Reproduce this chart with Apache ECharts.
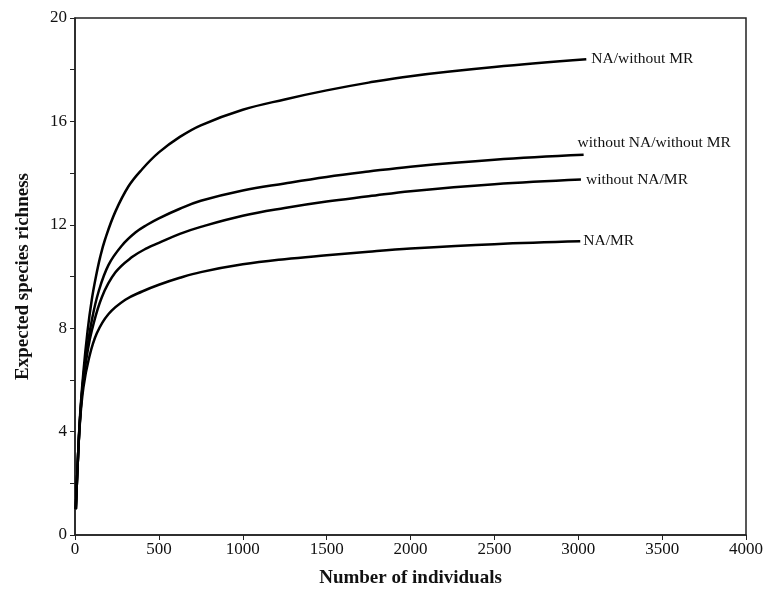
<!DOCTYPE html>
<html lang="en">
<head>
    <meta charset="UTF-8">
    <title>Rarefaction curves</title>
    <script src="https://cdn.jsdelivr.net/npm/echarts@6/dist/echarts.min.js"></script>
</head>
<style>
    html, body {
        height: 100%;
        margin: 0;
        background: #fff;
    }
</style>
<body>
<div id="main" style="width: 766px;height:594px"></div>
<script type="text/javascript">
    // values: [number of individuals, expected species]
    var naWithoutMr = [[5, 1], [15, 2.6], [30, 4.6], [50, 6.3], [75, 7.9], [100, 9.1], [125, 10.0], [150, 10.75],
        [180, 11.45], [240, 12.5], [320, 13.5], [400, 14.15], [500, 14.8], [625, 15.4], [750, 15.85], [1000, 16.45],
        [1250, 16.85], [1500, 17.2], [1750, 17.5], [2000, 17.75], [2500, 18.1], [3048, 18.4]];
    var withoutNaWithoutMr = [[5, 1], [15, 2.6], [30, 4.5], [50, 6.1], [75, 7.3], [100, 8.3], [140, 9.4], [200, 10.45],
        [280, 11.2], [360, 11.7], [430, 12.0], [500, 12.25], [625, 12.62], [750, 12.93], [1000, 13.33], [1250, 13.6],
        [1500, 13.85], [1750, 14.06], [2000, 14.25], [2500, 14.52], [3032, 14.71]];
    var withoutNaMr = [[5, 1], [15, 2.6], [30, 4.5], [50, 6.0], [75, 7.1], [100, 7.9], [160, 9.2], [240, 10.15],
        [340, 10.75], [430, 11.1], [500, 11.3], [625, 11.65], [750, 11.92], [1000, 12.35], [1250, 12.65],
        [1500, 12.9], [1750, 13.1], [2000, 13.3], [2500, 13.57], [3016, 13.75]];
    var naMr = [[5, 1], [15, 2.6], [30, 4.4], [50, 5.7], [82, 6.8], [130, 7.8], [200, 8.55], [300, 9.1], [400, 9.42],
        [500, 9.68], [625, 9.95], [750, 10.17], [1000, 10.47], [1250, 10.67], [1500, 10.82], [1750, 10.96],
        [2000, 11.08], [2500, 11.25], [3012, 11.36]];

    var seriesNames = ['NA/without MR', 'without NA/without MR', 'without NA/MR', 'NA/MR'];
    var seriesData = [naWithoutMr, withoutNaWithoutMr, withoutNaMr, naMr];
    var labelOffsets = [[0, 0], [-11, -12], [0, 0], [-2, 0]];

    var font = 'Liberation Serif';
    var myChart = echarts.init(document.getElementById('main'));

    var series = [];
    for (var i = 0; i < seriesData.length; i++) {
        series.push({
            name: seriesNames[i],
            type: 'line',
            data: seriesData[i],
            smooth: 0.4,
            showSymbol: false,
            lineStyle: {color: '#000', width: 2.5},
            endLabel: {
                show: true,
                formatter: '{a}',
                distance: 5,
                offset: labelOffsets[i],
                color: '#111',
                fontFamily: font,
                fontSize: 15.5
            }
        });
    }

    var option = {
        animation: false,
        backgroundColor: '#fff',
        grid: {
            left: 75, right: 19, top: 18, bottom: 59,
            show: true, borderColor: '#222', borderWidth: 1.5
        },
        xAxis: {
            type: 'value',
            min: 0, max: 4000, interval: 500,
            name: 'Number of individuals',
            nameLocation: 'middle',
            nameGap: 34,
            nameTextStyle: {fontFamily: font, fontSize: 19, fontWeight: 'bold', color: '#111'},
            axisLine: {lineStyle: {color: '#222', width: 1.5}},
            axisTick: {inside: false, length: 5, lineStyle: {color: '#222'}},
            axisLabel: {
                margin: 6, fontFamily: font, fontSize: 17, color: '#111',
                formatter: function (v) { return String(v); }
            },
            splitLine: {show: false}
        },
        yAxis: {
            type: 'value',
            min: 0, max: 20, interval: 4,
            name: 'Expected species richness',
            nameLocation: 'middle',
            nameGap: 42,
            nameTextStyle: {fontFamily: font, fontSize: 19, fontWeight: 'bold', color: '#111'},
            axisLine: {show: true, lineStyle: {color: '#222', width: 1.5}},
            axisTick: {show: true, length: 5, lineStyle: {color: '#222'}},
            minorTick: {show: true, splitNumber: 2, length: 5, lineStyle: {color: '#222'}},
            axisLabel: {margin: 8, fontFamily: font, fontSize: 17, color: '#111'},
            splitLine: {show: false}
        },
        series: series
    };
    myChart.setOption(option);
</script>
</body>
</html>
